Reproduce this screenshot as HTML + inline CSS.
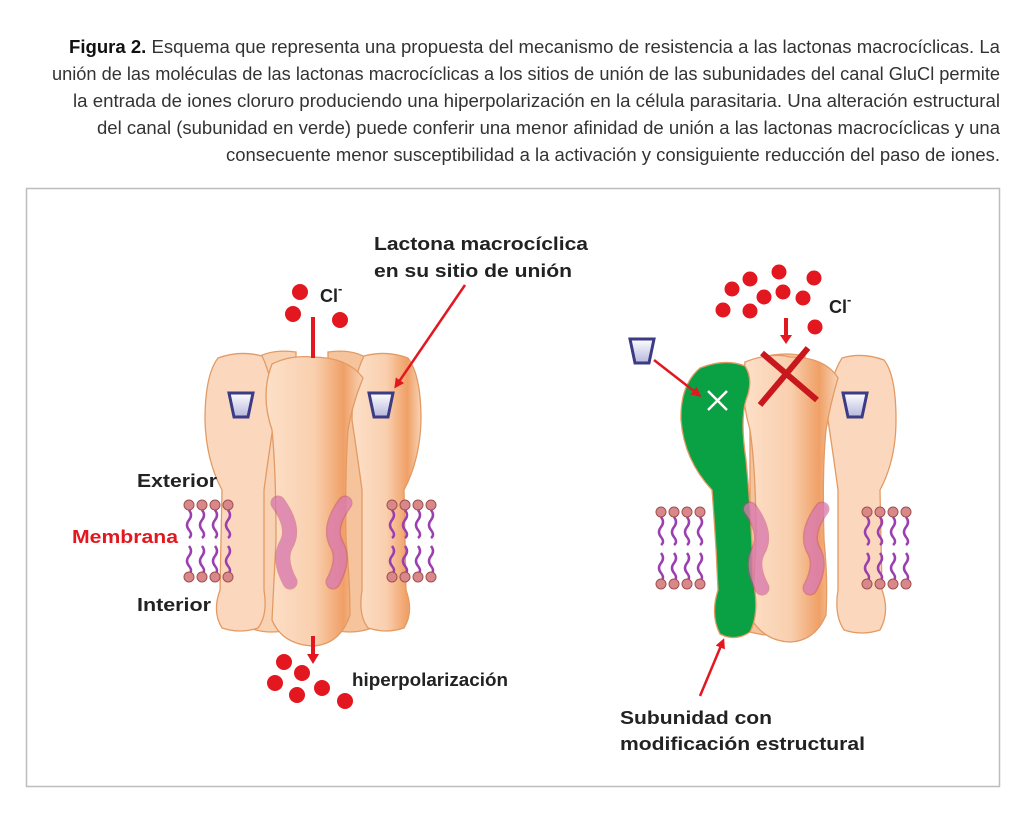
<!DOCTYPE html>
<html><head><meta charset="utf-8"><style>
html,body{margin:0;padding:0;background:#fff;}
svg{display:block;}
.cap{font-family:"Liberation Sans Narrow","Liberation Sans",sans-serif;font-size:18px;fill:#333;}
.lb{font-family:"Liberation Sans",sans-serif;font-weight:bold;font-size:18px;fill:#222;}
</style></head><body>
<svg width="1024" height="813" viewBox="0 0 1024 813" xmlns="http://www.w3.org/2000/svg">
<defs>
<linearGradient id="sub" x1="0" x2="1"><stop offset="0" stop-color="#fde0c8"/><stop offset="0.5" stop-color="#f9cfae"/><stop offset="0.8" stop-color="#f0a066"/><stop offset="1" stop-color="#f8d3b6"/></linearGradient>
<linearGradient id="sq" x1="0" x2="0" y1="0" y2="1"><stop offset="0" stop-color="#fff"/><stop offset="1" stop-color="#b6b6dd"/></linearGradient>
<marker id="ah" markerWidth="10" markerHeight="10" refX="7" refY="5" orient="auto" markerUnits="userSpaceOnUse"><path d="M0,0 L10,5 L0,10 z" fill="#e3171f"/></marker>
<g id="lip">
 <g fill="none" stroke="#9b3fb0" stroke-width="2.5">
 <path d="M0,8 q4,5 0,10 q-4,5 0,10 q4,5 0,8"/><path d="M13,8 q4,5 0,10 q-4,5 0,10 q4,5 0,8"/><path d="M26,8 q4,5 0,10 q-4,5 0,10 q4,5 0,8"/><path d="M39,8 q4,5 0,10 q-4,5 0,10 q4,5 0,8"/>
 <path d="M0,44 q4,5 0,10 q-4,5 0,10 q4,5 0,8"/><path d="M13,44 q4,5 0,10 q-4,5 0,10 q4,5 0,8"/><path d="M26,44 q4,5 0,10 q-4,5 0,10 q4,5 0,8"/><path d="M39,44 q4,5 0,10 q-4,5 0,10 q4,5 0,8"/>
 </g>
 <g fill="#d9888a" stroke="#a05050" stroke-width="1">
 <circle cx="0" cy="3" r="5"/><circle cx="13" cy="3" r="5"/><circle cx="26" cy="3" r="5"/><circle cx="39" cy="3" r="5"/>
 <circle cx="0" cy="75" r="5"/><circle cx="13" cy="75" r="5"/><circle cx="26" cy="75" r="5"/><circle cx="39" cy="75" r="5"/>
 </g>
</g>
<path id="sqp" d="M0,0 L24,0 L19,24 L5,24 z" fill="url(#sq)" stroke="#3b3b86" stroke-width="3"/>
<g id="pinkL"><path d="M278,503 Q296,528 286,545 Q278,560 290,582" fill="none" stroke="#c04a80" stroke-opacity="0.5" stroke-width="15" stroke-linecap="round"/><path d="M278,503 Q296,528 286,545 Q278,560 290,582" fill="none" stroke="#e28ac0" stroke-opacity="0.6" stroke-width="12" stroke-linecap="round"/></g>
</defs>

<g class="cap" text-anchor="end">
<text x="1000" y="53" textLength="931" lengthAdjust="spacingAndGlyphs"><tspan font-weight="bold" fill="#111">Figura 2.</tspan> Esquema que representa una propuesta del mecanismo de resistencia a las lactonas macrocíclicas. La</text>
<text x="1000" y="80" textLength="948" lengthAdjust="spacingAndGlyphs">unión de las moléculas de las lactonas macrocíclicas a los sitios de unión de las subunidades del canal GluCl permite</text>
<text x="1000" y="107" textLength="927" lengthAdjust="spacingAndGlyphs">la entrada de iones cloruro produciendo una hiperpolarización en la célula parasitaria. Una alteración estructural</text>
<text x="1000" y="134" textLength="903" lengthAdjust="spacingAndGlyphs">del canal (subunidad en verde) puede conferir una menor afinidad de unión a las lactonas macrocíclicas y una</text>
<text x="1000" y="161" textLength="774" lengthAdjust="spacingAndGlyphs">consecuente menor susceptibilidad a la activación y consiguiente reducción del paso de iones.</text>
</g>

<rect x="26.5" y="188.5" width="973" height="598" fill="#fff" stroke="#bdbdbd" stroke-width="1.5"/>

<!-- LEFT CHANNEL -->
<g stroke="#e39a63" stroke-width="1.3">
<path d="M250,362 Q268,348 296,352 L296,628 Q270,636 250,628 z" fill="#f9d2b4"/>
<path d="M328,352 Q356,348 372,362 L372,628 Q350,636 328,628 z" fill="#f6c49c"/>
<path d="M218,358 Q240,350 262,356 Q274,380 274,420 Q268,460 264,490 L264,590 Q268,615 258,628 Q240,634 222,628 Q212,612 220,590 L222,490 Q206,460 205,420 Q205,375 218,358z" fill="#fbd8bd"/>
<path d="M408,358 Q386,350 364,356 Q352,380 352,420 Q358,460 362,490 L362,590 Q358,615 368,628 Q386,634 404,628 Q414,612 406,590 L404,490 Q420,460 421,420 Q421,375 408,358z" fill="url(#sub)"/>
<path d="M272,364 Q290,355 312,357 Q348,357 363,378 Q352,405 348,430 Q345,470 346,540 Q350,580 350,615 Q340,645 312,646 Q282,644 272,620 Q274,580 276,540 Q276,470 272,430 Q260,395 272,364z" fill="url(#sub)"/>
</g>
<use href="#pinkL"/>
<use href="#pinkL" transform="translate(623,0) scale(-1,1)"/>
<use href="#sqp" x="229" y="393"/>
<use href="#sqp" x="369" y="393"/>
<use href="#lip" x="189" y="502"/>
<use href="#lip" x="392" y="502"/>
<line x1="313" y1="317" x2="313" y2="358" stroke="#e3171f" stroke-width="4"/>
<line x1="313" y1="636" x2="313" y2="656" stroke="#e3171f" stroke-width="4"/>
<path d="M307,654 L319,654 L313,664z" fill="#e3171f"/>
<g fill="#e3171f">
<circle cx="300" cy="292" r="8"/><circle cx="293" cy="314" r="8"/><circle cx="340" cy="320" r="8"/>
<circle cx="284" cy="662" r="8"/><circle cx="302" cy="673" r="8"/><circle cx="275" cy="683" r="8"/><circle cx="297" cy="695" r="8"/><circle cx="322" cy="688" r="8"/><circle cx="345" cy="701" r="8"/>
</g>
<text class="lb" x="320" y="302" font-size="22">Cl<tspan font-size="13" dy="-9">-</tspan></text>
<text class="lb" x="374" y="250" textLength="214" lengthAdjust="spacingAndGlyphs">Lactona macrocíclica</text>
<text class="lb" x="374" y="277" textLength="198" lengthAdjust="spacingAndGlyphs">en su sitio de unión</text>
<line x1="465" y1="285" x2="396" y2="386" stroke="#e3171f" stroke-width="2.5" marker-end="url(#ah)"/>
<text class="lb" x="137" y="487" textLength="80" lengthAdjust="spacingAndGlyphs">Exterior</text>
<text class="lb" x="72" y="543" style="fill:#e3171f" textLength="106" lengthAdjust="spacingAndGlyphs">Membrana</text>
<text class="lb" x="137" y="611" textLength="74" lengthAdjust="spacingAndGlyphs">Interior</text>
<text class="lb" x="352" y="686" font-size="17" textLength="156" lengthAdjust="spacingAndGlyphs">hiperpolarización</text>

<!-- RIGHT CHANNEL -->
<g stroke="#e39a63" stroke-width="1.3">
<path d="M750,362 Q775,350 805,356 L815,632 Q780,640 750,632 z" fill="#f6c49c"/>
<path d="M884,360 Q862,352 842,358 Q828,380 828,420 Q834,460 838,490 L838,590 Q834,615 844,630 Q862,636 880,630 Q890,612 882,590 L880,490 Q896,460 896,420 Q896,375 884,360z" fill="#fbd8bd"/>
<path d="M745,362 Q770,352 790,357 Q825,357 838,378 Q830,405 826,430 Q822,470 824,540 Q828,580 826,615 Q815,641 790,642 Q765,641 752,620 Q754,580 756,540 Q756,470 750,430 Q740,395 745,362z" fill="url(#sub)"/>
<path d="M700,368 Q725,358 745,366 Q754,380 746,400 Q740,420 746,460 Q752,520 753,580 Q760,612 750,632 Q735,642 720,634 Q710,615 718,590 Q716,540 712,490 Q684,460 681,420 Q680,385 700,368z" fill="#0aa044"/>
</g>
<use href="#pinkL" transform="translate(472,6)"/>
<use href="#pinkL" transform="translate(1100,6) scale(-1,1)"/>
<use href="#sqp" x="843" y="393"/>
<use href="#sqp" x="630" y="339"/>
<use href="#lip" x="661" y="509"/>
<use href="#lip" x="867" y="509"/>
<line x1="654" y1="360" x2="699" y2="395" stroke="#e3171f" stroke-width="2.5" marker-end="url(#ah)"/>
<g stroke="#fff" stroke-width="2.5"><line x1="708" y1="391" x2="727" y2="410"/><line x1="727" y1="391" x2="708" y2="410"/></g>
<g stroke="#c8171d" stroke-width="6"><line x1="762" y1="353" x2="817" y2="400"/><line x1="808" y1="348" x2="760" y2="405"/></g>
<line x1="786" y1="318" x2="786" y2="336" stroke="#e3171f" stroke-width="4"/>
<path d="M780,335 L792,335 L786,344z" fill="#e3171f"/>
<g fill="#e3171f">
<circle cx="750" cy="279" r="7.5"/><circle cx="779" cy="272" r="7.5"/><circle cx="814" cy="278" r="7.5"/>
<circle cx="732" cy="289" r="7.5"/><circle cx="764" cy="297" r="7.5"/><circle cx="783" cy="292" r="7.5"/><circle cx="803" cy="298" r="7.5"/>
<circle cx="723" cy="310" r="7.5"/><circle cx="750" cy="311" r="7.5"/><circle cx="815" cy="327" r="7.5"/>
</g>
<text class="lb" x="829" y="313" font-size="22">Cl<tspan font-size="13" dy="-9">-</tspan></text>
<line x1="700" y1="696" x2="723" y2="641" stroke="#e3171f" stroke-width="2.5" marker-end="url(#ah)"/>
<text class="lb" x="620" y="724" textLength="152" lengthAdjust="spacingAndGlyphs">Subunidad con</text>
<text class="lb" x="620" y="750" textLength="245" lengthAdjust="spacingAndGlyphs">modificación estructural</text>
</svg>
</body></html>
